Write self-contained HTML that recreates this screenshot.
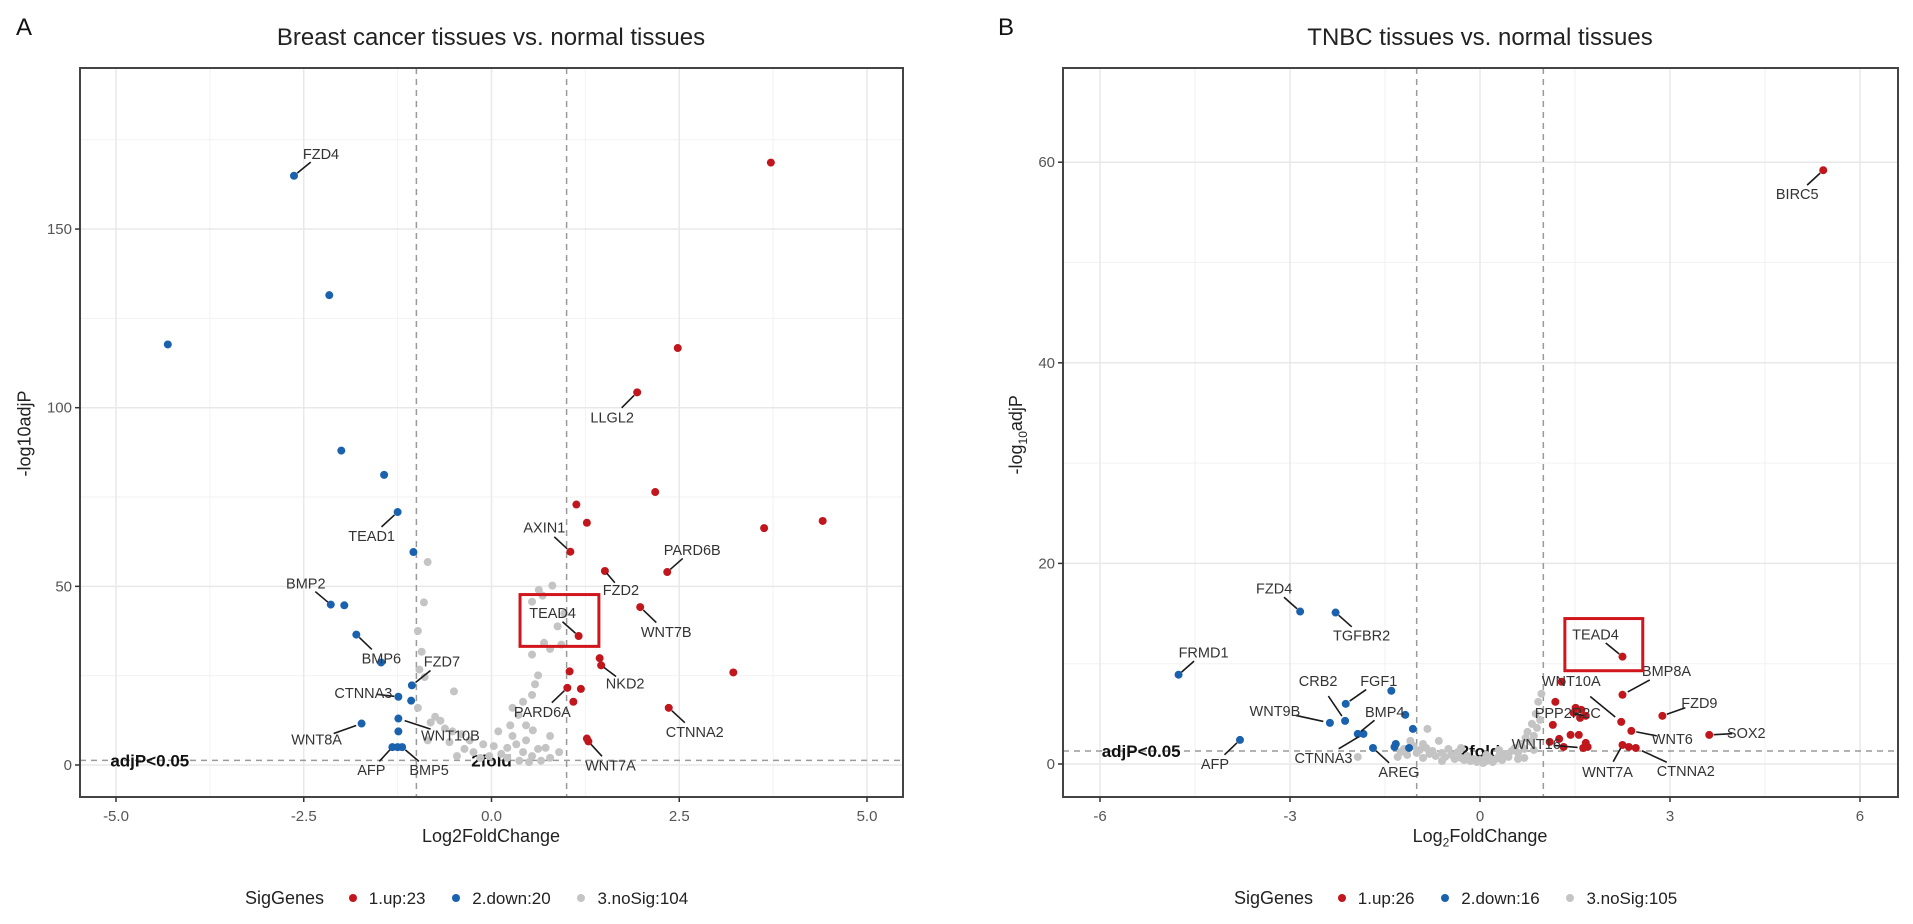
<!DOCTYPE html>
<html><head><meta charset="utf-8"><style>
html,body{margin:0;padding:0;background:#fff;}
svg{display:block;font-family:"Liberation Sans",Arial,sans-serif;}
</style></head><body>
<svg id="fig" width="1913" height="924" viewBox="0 0 1913 924" xmlns="http://www.w3.org/2000/svg"></svg>
<script>
// ===== Panel A data =====
const aUpX=[3.72,2.48,1.94,2.18,1.13,1.27,3.63,4.41,1.05,1.51,2.34,1.98,1.16,1.44,1.46,1.04,3.22,1.01,1.19,1.09,2.36,1.27,1.29];
const aUpY=[168.6,116.7,104.3,76.4,72.9,67.8,66.3,68.3,59.7,54.3,54.0,44.2,36.1,29.9,27.9,26.2,25.9,21.6,21.3,17.7,16.0,7.4,6.6];
const aDownX=[-2.63,-2.16,-4.31,-2.00,-1.43,-1.25,-1.04,-2.14,-1.96,-1.80,-1.47,-1.06,-1.24,-1.07,-1.24,-1.73,-1.24,-1.32,-1.25,-1.19];
const aDownY=[164.9,131.5,117.7,88.0,81.2,70.8,59.6,44.9,44.7,36.5,28.7,22.3,19.1,18.0,13.0,11.6,9.4,5.0,5.0,5.0];
const aNoX=[-0.85,-0.90,-0.98,-0.50,-0.75,-0.68,-0.62,-0.52,-0.40,-0.29,-0.11,-0.36,-0.24,-0.03,0.13,0.21,0.33,0.28,0.46,0.42,0.54,0.62,0.72,0.78,0.55,0.46,0.36,0.28,0.42,0.54,0.58,0.62,0.54,0.70,0.78,0.93,0.88,0.97,0.81,0.63,0.68,0.54,0.25,0.09,0.03,-0.15,-0.46,-0.56,-0.85,-0.81,-0.89,-0.96,-0.93,-0.98,0.21,0.37,0.50,0.66,0.78,0.90];
const aNoY=[56.8,45.5,37.5,20.6,13.5,12.4,10.2,9.4,8.6,6.9,5.8,4.5,3.6,2.5,3.1,4.8,5.8,8.1,6.9,3.6,2.5,4.5,4.8,8.1,9.7,11.1,14.0,16.0,17.7,19.6,22.6,25.1,30.9,34.2,32.5,33.7,38.8,42.4,50.2,49.0,47.4,45.7,11.1,9.4,5.3,2.0,2.5,6.4,6.9,11.9,24.6,26.7,31.7,16.0,2.0,1.2,0.8,1.2,2.0,3.6];
const aLabGene=["FZD4","TEAD1","BMP2","BMP6","FZD7","CTNNA3","WNT8A","WNT10B","AFP","BMP5","LLGL2","AXIN1","PARD6B","FZD2","WNT7B","TEAD4","NKD2","PARD6A","CTNNA2","WNT7A"];
const aLabX=[-2.63,-1.25,-2.14,-1.80,-1.06,-1.24,-1.73,-1.24,-1.32,-1.19,1.94,1.05,2.34,1.51,1.98,1.16,1.46,1.01,2.36,1.29];
const aLabY=[164.9,70.8,44.9,36.5,22.3,19.1,11.6,13.0,5.0,5.0,104.3,59.7,54.0,54.3,44.2,36.1,27.9,21.6,16.0,6.6];
const aLabDx=[27,-26,-25,25,30,-35,-45,52,-21,27,-25,-26,25,16,26,-26,24,-25,26,22];
const aLabDy=[-22,24,-21,24,-24,-4,16,17,23,23,25,-24,-22,19,25,-23,18,24,24,24];
const aXTicks=[-5,-2.5,0,2.5,5];
const aXTickLabels=["-5.0","-2.5","0.0","2.5","5.0"];
const aYTicks=[0,50,100,150];
const aYTickLabels=["0","50","100","150"];
const aBox=[0.38,1.43,47.7,33.2];

// ===== Panel B data =====
const bUpX=[5.42,2.25,1.29,2.25,2.88,3.62,1.19,1.51,1.58,1.67,1.15,2.23,2.39,1.43,1.56,1.10,1.32,1.67,1.70,1.63,2.25,2.35,2.46,1.48,1.60,1.25];
const bUpY=[59.2,10.7,8.2,6.9,4.8,2.9,6.2,5.6,4.6,4.8,3.9,4.2,3.3,2.9,2.9,2.2,1.7,2.1,1.7,1.6,1.9,1.7,1.6,5.1,5.4,2.5];
const bDownX=[-4.76,-2.84,-2.28,-1.40,-2.12,-2.37,-2.13,-1.18,-1.06,-1.93,-1.84,-1.33,-1.35,-1.69,-1.12,-3.79];
const bDownY=[8.9,15.2,15.1,7.3,6.0,4.1,4.3,4.9,3.5,3.0,3.0,2.0,1.7,1.6,1.6,2.4];
const bNoX=[-1.25,-1.2,-1.15,-1.05,-1.0,-0.95,-0.9,-0.85,-0.83,-0.8,-0.75,-0.7,-0.65,-0.6,-0.55,-0.5,-0.45,-0.4,-0.35,-0.3,-0.25,-0.2,-0.15,-0.1,-0.05,0,0.05,0.1,0.15,0.2,0.25,0.3,0.35,0.4,0.45,0.5,0.55,0.6,0.65,0.7,0.72,0.75,0.8,0.82,0.85,0.88,0.9,0.92,0.95,0.97,0.6,-0.6,-0.9,0.3,-0.3,0.1,-1.1,-1.3,0.85,0.7,-1.93];
const bNoY=[1.2,1.5,0.9,1.8,1.1,1.4,2.0,1.6,3.5,1.0,1.3,0.8,2.3,1.1,0.7,1.5,0.9,0.5,1.2,0.6,0.4,0.8,0.3,0.5,0.2,0.4,0.1,0.3,0.6,0.2,0.5,0.8,0.4,1.0,0.7,1.3,1.6,1.1,2.0,1.5,2.6,3.2,2.2,4.0,2.8,5.0,3.6,6.2,4.4,7.0,0.5,0.3,0.6,1.4,1.6,0.9,2.3,0.7,1.4,0.6,0.7];
const bLabGene=["BIRC5","FZD4","TGFBR2","FRMD1","CRB2","FGF1","WNT9B","BMP4","CTNNA3","AREG","AFP","TEAD4","WNT10A","BMP8A","FZD9","PPP2R2C","WNT6","SOX2","WNT16","WNT7A","CTNNA2"];
const bLabX=[5.42,-2.84,-2.28,-4.76,-2.13,-2.12,-2.37,-1.93,-1.84,-1.69,-3.79,2.25,2.23,2.25,2.88,1.67,2.39,3.62,1.63,2.25,2.46];
const bLabY=[59.2,15.2,15.1,8.9,4.3,6.0,4.1,3.0,3.0,1.6,2.4,10.7,4.2,6.9,4.8,4.8,3.3,2.9,1.6,1.9,1.6];
const bLabDx=[-26,-26,26,25,-27,33,-55,27,-40,26,-25,-27,-50,44,37,-18,41,37,-47,-15,50];
const bLabDy=[24,-23,23,-22,-40,-23,-12,-22,24,24,24,-22,-41,-24,-13,-3,8,-2,-4,27,23];
const bXTicks=[-6,-3,0,3,6];
const bXTickLabels=["-6","-3","0","3","6"];
const bYTicks=[0,20,40,60];
const bYTickLabels=["0","20","40","60"];
const bBox=[1.34,2.57,14.5,9.3];

const NS="http://www.w3.org/2000/svg";
const svg=document.getElementById('fig');
function mk(tag,attrs,parent){const e=document.createElementNS(NS,tag);for(const k in attrs)e.setAttribute(k,attrs[k]);(parent||svg).appendChild(e);return e;}

function panel(p){
  const g=mk('g',{});
  
  
  const X=v=>p.x0+v*p.xs, Y=v=>p.y0-v*p.ys;
  // grid
  const grid=mk('g',{},g);
  
  
  p.xMinor.forEach(v=>mk('line',{x1:X(v),x2:X(v),y1:p.top,y2:p.bot,stroke:'#f2f2f2','stroke-width':1},grid));
  p.yMinor.forEach(v=>mk('line',{x1:p.left,x2:p.right,y1:Y(v),y2:Y(v),stroke:'#f2f2f2','stroke-width':1},grid));
  p.xt.forEach(v=>mk('line',{x1:X(v),x2:X(v),y1:p.top,y2:p.bot,stroke:'#e8e8e8','stroke-width':1.5},grid));
  p.yt.forEach(v=>mk('line',{x1:p.left,x2:p.right,y1:Y(v),y2:Y(v),stroke:'#e8e8e8','stroke-width':1.5},grid));
  // thresholds
  [-1,1].forEach(v=>{const l=mk('line',{x1:X(v),x2:X(v),y1:p.top,y2:p.bot,stroke:'#9a9a9a','stroke-width':1.5,'stroke-dasharray':'6,5'},g);
    });
  const hl=mk('line',{x1:p.left,x2:p.right,y1:Y(1.3),y2:Y(1.3),stroke:'#9a9a9a','stroke-width':1.5,'stroke-dasharray':'6,5'},g);
  
  let t=mk('text',{x:X(p.adjX),y:Y(1.3)+6,'font-size':17,'font-weight':'bold','text-anchor':'middle',fill:'#111'},g);t.textContent='adjP<0.05';
  
  t=mk('text',{x:X(0),y:Y(1.3)+6,'font-size':17,'font-weight':'bold','text-anchor':'middle',fill:'#111'},g);t.textContent='2fold';
  
  // points
  const series=[[p.noX,p.noY,'#c4c4c4','nosig'],[p.downX,p.downY,'#1a62ad','down'],[p.upX,p.upY,'#c2161d','up']];
  series.forEach(s=>{s[0].forEach((v,i)=>{const c=mk('circle',{cx:X(v),cy:Y(s[1][i]),r:4,fill:s[2]},g);
    
    });});
  // labels
  p.lg.forEach((name,i)=>{const px=X(p.lx[i]),py=Y(p.ly[i]),dx=p.ldx[i],dy=p.ldy[i];
    mk('line',{x1:px+dx*0.12,y1:py+dy*0.12,x2:px+dx*0.62,y2:py+dy*0.62,stroke:'#1a1a1a','stroke-width':1.6},g);
    const tx=mk('text',{x:px+dx,y:py+dy+5,'font-size':14.5,'text-anchor':'middle',fill:'#333'},g);tx.textContent=name;
    
    });
  // highlight box
  const b=mk('rect',{x:X(p.box[0]),y:Y(p.box[2]),width:X(p.box[1])-X(p.box[0]),height:Y(p.box[3])-Y(p.box[2]),fill:'none',stroke:'#d0161c','stroke-width':3},g);
  
  // frame
  const fr=mk('rect',{x:p.left,y:p.top,width:p.right-p.left,height:p.bot-p.top,fill:'none',stroke:'#444','stroke-width':2},g);
  
  // ticks
  p.xt.forEach((v,i)=>{mk('line',{x1:X(v),x2:X(v),y1:p.bot,y2:p.bot+5,stroke:'#333','stroke-width':1.5},g);
    const tl=mk('text',{x:X(v),y:p.bot+24,'font-size':15,'text-anchor':'middle',fill:'#555'},g);tl.textContent=p.xtl[i];
    });
  p.yt.forEach((v,i)=>{mk('line',{x1:p.left-5,x2:p.left,y1:Y(v),y2:Y(v),stroke:'#333','stroke-width':1.5},g);
    const tl=mk('text',{x:p.left-8,y:Y(v)+5,'font-size':15,'text-anchor':'end',fill:'#555'},g);tl.textContent=p.ytl[i];
    });
}

panel({key:'a',x0:491.5,xs:75.1,y0:765,ys:3.573,left:80,right:903,top:68,bot:797,
  xt:aXTicks,xtl:aXTickLabels,yt:aYTicks,ytl:aYTickLabels,xMinor:[-3.75,-1.25,1.25,3.75],yMinor:[25,75,125,175],
  upX:aUpX,upY:aUpY,downX:aDownX,downY:aDownY,noX:aNoX,noY:aNoY,
  lg:aLabGene,lx:aLabX,ly:aLabY,ldx:aLabDx,ldy:aLabDy,box:aBox,adjX:-4.55});
panel({key:'b',x0:1480,xs:63.33,y0:764,ys:10.03,left:1063,right:1898,top:68,bot:797,
  xt:bXTicks,xtl:bXTickLabels,yt:bYTicks,ytl:bYTickLabels,xMinor:[-4.5,-1.5,1.5,4.5],yMinor:[10,30,50],
  upX:bUpX,upY:bUpY,downX:bDownX,downY:bDownY,noX:bNoX,noY:bNoY,
  lg:bLabGene,lx:bLabX,ly:bLabY,ldx:bLabDx,ldy:bLabDy,box:bBox,adjX:-5.35});
</script>
<svg width="0" height="0" style="position:absolute"></svg>
<div style="position:absolute;left:0;top:0;width:1913px;height:924px;pointer-events:none;font-family:'Liberation Sans',Arial,sans-serif;">
  <div style="position:absolute;left:16px;top:14px;font-size:24px;color:#111;">A</div>
  <div style="position:absolute;left:998px;top:14px;font-size:24px;color:#111;">B</div>
  <div style="position:absolute;left:191px;width:600px;top:24px;text-align:center;font-size:24px;color:#222;">Breast cancer tissues vs. normal tissues</div>
  <div style="position:absolute;left:1180px;width:600px;top:24px;text-align:center;font-size:24px;color:#222;">TNBC tissues vs. normal tissues</div>
  <div style="position:absolute;left:391px;width:200px;top:826px;text-align:center;font-size:18px;color:#222;">Log2FoldChange</div>
  <div style="position:absolute;left:1380px;width:200px;top:826px;text-align:center;font-size:18px;color:#222;">Log<sub style="font-size:12px">2</sub>FoldChange</div>
  <div style="position:absolute;left:-75px;width:200px;top:423px;text-align:center;font-size:18px;color:#222;transform:rotate(-90deg);">-log10adjP</div>
  <div style="position:absolute;left:918px;width:200px;top:423px;text-align:center;font-size:18px;color:#222;transform:rotate(-90deg);">-log<sub style="font-size:12px">10</sub>adjP</div>
  <div style="position:absolute;left:245px;top:888px;font-size:17px;color:#222;white-space:nowrap;">
    <span style="font-size:18px">SigGenes</span>
    <span style="display:inline-block;width:8px;height:8px;border-radius:50%;background:#c2161d;margin:0 12px 2px 20px;"></span><span>1.up:23</span>
    <span style="display:inline-block;width:8px;height:8px;border-radius:50%;background:#1a62ad;margin:0 12px 2px 22px;"></span><span>2.down:20</span>
    <span style="display:inline-block;width:8px;height:8px;border-radius:50%;background:#c4c4c4;margin:0 12px 2px 22px;"></span><span>3.noSig:104</span>
  </div>
  <div style="position:absolute;left:1234px;top:888px;font-size:17px;color:#222;white-space:nowrap;">
    <span style="font-size:18px">SigGenes</span>
    <span style="display:inline-block;width:8px;height:8px;border-radius:50%;background:#c2161d;margin:0 12px 2px 20px;"></span><span>1.up:26</span>
    <span style="display:inline-block;width:8px;height:8px;border-radius:50%;background:#1a62ad;margin:0 12px 2px 22px;"></span><span>2.down:16</span>
    <span style="display:inline-block;width:8px;height:8px;border-radius:50%;background:#c4c4c4;margin:0 12px 2px 22px;"></span><span>3.noSig:105</span>
  </div>
</div>
</body></html>
